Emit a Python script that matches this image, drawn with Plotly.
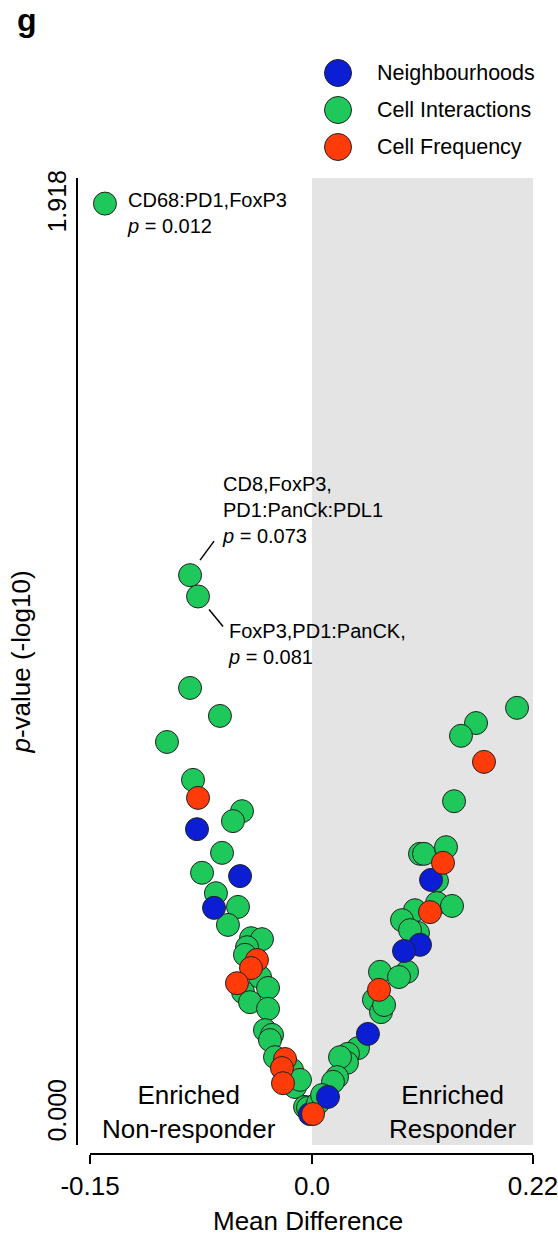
import plotly.graph_objects as go

W, H = 558, 1237
FONT = "Arial, Liberation Sans, sans-serif"

# ---------------- data ----------------
categories = ["Neighbourhoods", "Cell Interactions", "Cell Frequency"]
cat_colors = ["#0B1ED4", "#1FC85A", "#FF3B0A"]

neigh_x = [-0.0777, -0.0486, -0.0662, -0.0014, 0.1185, 0.1075, 0.0916, 0.0557, 0.0159]
neigh_y = [0.601, 0.502, 0.435, 0.000, 0.494, 0.357, 0.344, 0.169, 0.036]

inter_x = [-0.1399, -0.0824, -0.0770, -0.0824, -0.0622, -0.0980, -0.0804, -0.0473,
           -0.0534, -0.0608, -0.0743, -0.0649, -0.0500, -0.0568, -0.0412, -0.0338,
           -0.0439, -0.0453, -0.0351, -0.0297, -0.0466, -0.0419, -0.0297, -0.0318,
           -0.0270, -0.0284, -0.0250, -0.0135, -0.0115, -0.0081, -0.0047, -0.0027,
           0.2041, 0.1633, 0.1483, 0.1414, 0.1075, 0.1115, 0.1334, 0.1244,
           0.1244, 0.1394, 0.1025, 0.0896, 0.1055, 0.0976, 0.0677, 0.0946,
           0.0866, 0.0617, 0.0687, 0.0717, 0.0458, 0.0358, 0.0348, 0.0279,
           0.0249, 0.0209, 0.0060, 0.0100]
inter_y = [1.921, 1.137, 1.092, 0.899, 0.840, 0.785, 0.705, 0.639,
           0.618, 0.551, 0.509, 0.466, 0.437, 0.399, 0.371, 0.369,
           0.352, 0.336, 0.289, 0.266, 0.257, 0.236, 0.222, 0.177,
           0.167, 0.156, 0.120, 0.093, 0.057, 0.072, 0.015, 0.013,
           0.857, 0.825, 0.798, 0.660, 0.549, 0.549, 0.563, 0.492,
           0.445, 0.439, 0.430, 0.409, 0.382, 0.388, 0.300, 0.300,
           0.289, 0.241, 0.215, 0.230, 0.139, 0.127, 0.108, 0.120,
           0.078, 0.068, 0.023, 0.040]

freq_x = [-0.0770, -0.0372, -0.0412, -0.0507, -0.0182, -0.0203, -0.0196,
          0.1712, 0.1304, 0.1175, 0.0667, 0.0010]
freq_y = [0.667, 0.325, 0.308, 0.276, 0.116, 0.097, 0.065,
          0.743, 0.530, 0.426, 0.262, 0.000]

series_x = [neigh_x, inter_x, freq_x]
series_y = [neigh_y, inter_y, freq_y]

# annotated points (index into inter arrays) and their labels
labels = ["CD68:PD1,FoxP3<br><i>p</i> = 0.012",
          "CD8,FoxP3,<br>PD1:PanCk:PDL1<br><i>p</i> = 0.073",
          "FoxP3,PD1:PanCK,<br><i>p</i> = 0.081"]

x_left_ticks = [-0.15, 0.0]
x_left_text = ["-0.15", "0.0"]
x_right_ticks = [0.22]
x_right_text = ["0.22"]
y_ticks = [0.0, 1.918]


def fx(p):
    return p / W


def fy(p):
    return 1 - p / H


fig = go.Figure()

draw_order = [1, 0, 2]  # green first, then blue, then red on top
for i in draw_order:
    xs, ys = series_x[i], series_y[i]
    lx = [x for x in xs if x < 0]
    ly = [y for x, y in zip(xs, ys) if x < 0]
    rx = [x for x in xs if x >= 0]
    ry = [y for x, y in zip(xs, ys) if x >= 0]
    mk = dict(size=23, color=cat_colors[i], line=dict(color="#222222", width=1))
    fig.add_trace(go.Scatter(x=lx, y=ly, mode="markers", marker=mk, xaxis="x", yaxis="y",
                             cliponaxis=False, showlegend=False, name=categories[i]))
    fig.add_trace(go.Scatter(x=rx, y=ry, mode="markers", marker=mk, xaxis="x2", yaxis="y",
                             cliponaxis=False, showlegend=False, name=categories[i]))

# custom legend (large symbols) on a hidden pixel-space axis pair
leg_x0, leg_y0, leg_dy = 338, 73, 37
fig.add_trace(go.Scatter(
    x=[leg_x0] * len(categories),
    y=[leg_y0 + leg_dy * k for k in range(len(categories))],
    mode="markers",
    marker=dict(size=27, color=cat_colors, line=dict(color="#222222", width=1)),
    xaxis="x3", yaxis="y3", showlegend=False, cliponaxis=False, hoverinfo="skip"))

axis_common = dict(showline=True, linewidth=2, linecolor="black", showgrid=False,
                   zeroline=False, ticks="outside", ticklen=9, tickwidth=2,
                   tickcolor="black", tickfont=dict(size=26, color="black", family=FONT),
                   ticklabeloverflow="allow",
                   automargin=False, anchor="free", position=fy(1154))

fig.update_layout(
    width=W, height=H,
    margin=dict(l=0, r=0, t=0, b=0),
    paper_bgcolor="white", plot_bgcolor="rgba(0,0,0,0)",
    font=dict(family=FONT, color="black"),
    xaxis=dict(domain=[fx(90), fx(312)], range=[-0.15, 0.0], tickvals=x_left_ticks,
               ticktext=x_left_text, **axis_common),
    xaxis2=dict(domain=[fx(312), fx(533)], range=[0.0, 0.22], tickvals=x_right_ticks,
                ticktext=x_right_text, **axis_common),
    yaxis=dict(domain=[fy(1145), fy(178)], range=[-0.0654, 1.975], anchor="free",
               position=fx(77), showline=True, linewidth=2, linecolor="black",
               showgrid=False, zeroline=False, ticks="", tickvals=y_ticks,
               tickformat=".3f", tickangle=-90, automargin=False,
               ticklabeloverflow="allow",
               tickfont=dict(size=25, color="black", family=FONT),
               title=dict(text="<i>p</i>-value (-log10)", font=dict(size=26, family=FONT),
                          standoff=4)),
    xaxis3=dict(domain=[0, 1], range=[0, W], visible=False, anchor="y3", fixedrange=True),
    yaxis3=dict(domain=[0, 1], range=[H, 0], visible=False, anchor="x3", fixedrange=True),
    showlegend=False,
)

# shaded responder region
fig.add_shape(type="rect", xref="x2", yref="y domain", x0=0, x1=0.22, y0=0, y1=1,
              fillcolor="#E4E4E4", line=dict(width=0), layer="below")

# connector lines for annotated points (pixel offsets anchored at the points)
for idx, (dx0, dx1, dy0, dy1) in [(1, (10, 24, 15, 34)), (2, (11, 25, -13, -30))]:
    fig.add_shape(type="line", xref="x", yref="y", xsizemode="pixel", ysizemode="pixel",
                  xanchor=inter_x[idx], yanchor=inter_y[idx], x0=dx0, x1=dx1, y0=dy0, y1=dy1,
                  line=dict(color="black", width=1.5))

ann = []
ann.append(dict(text="<b>g</b>", x=fx(15), y=1, xref="paper", yref="paper",
                xanchor="left", yanchor="top", showarrow=False, font=dict(size=32)))
for txt, px, py in zip(labels, [125, 220, 226], [212.5, 510, 643.5]):
    ann.append(dict(text=txt, x=fx(px), y=fy(py), xref="paper", yref="paper", align="left",
                    xanchor="left", yanchor="middle", showarrow=False, font=dict(size=20)))
ann.append(dict(text="Enriched<br>Non-responder", x=fx(189), y=fy(1112), xref="paper",
                yref="paper", align="center", xanchor="center", yanchor="middle",
                showarrow=False, font=dict(size=26)))
ann.append(dict(text="Enriched<br>Responder", x=fx(453), y=fy(1112), xref="paper",
                yref="paper", align="center", xanchor="center", yanchor="middle",
                showarrow=False, font=dict(size=26)))
ann.append(dict(text="Mean Difference", x=fx(308), y=fy(1221), xref="paper", yref="paper",
                xanchor="center", yanchor="middle", showarrow=False, font=dict(size=26)))
for k, c in enumerate(categories):
    ann.append(dict(text=c, x=fx(375), y=fy(leg_y0 + leg_dy * k), xref="paper", yref="paper",
                    xanchor="left", yanchor="middle", showarrow=False, font=dict(size=21.5)))
fig.update_layout(annotations=ann)

fig.write_html("out.html", config={"displayModeBar": False},
               post_script="document.body.style.margin='0px';document.body.style.overflow='hidden';")
